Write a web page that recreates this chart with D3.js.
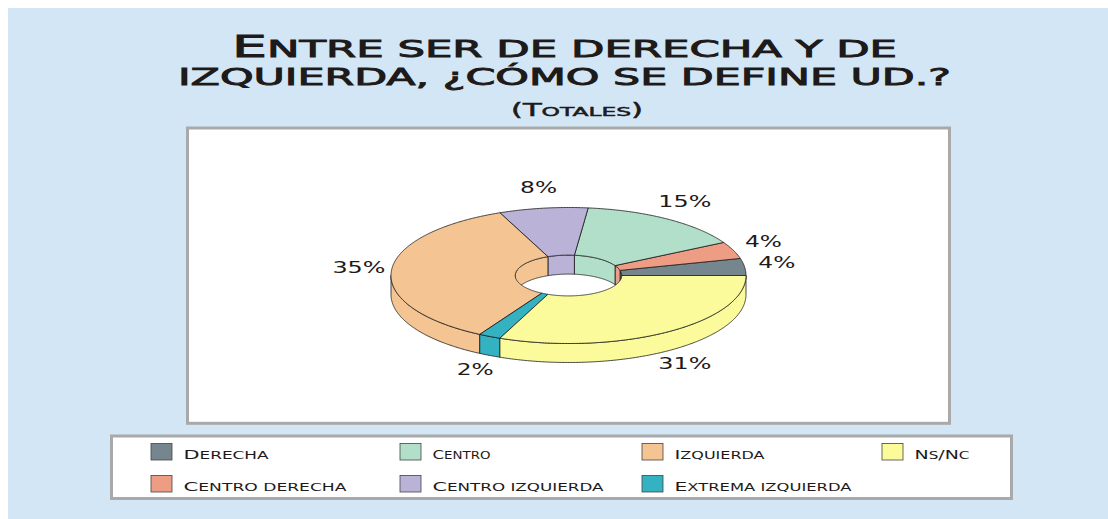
<!DOCTYPE html>
<html><head><meta charset="utf-8">
<script src="https://cdn.jsdelivr.net/npm/d3@7"></script>
<style>html,body{margin:0;padding:0;background:#fff;overflow:hidden}svg{display:block}</style>
</head><body>
<script>
// ---- data ----
const categories = ["Derecha","Centro derecha","Centro","Centro izquierda","Izquierda","Extrema izquierda","Ns/Nc"];
const values = [4,4,15,8,35,2,31];
const valueLabels = ["4%","4%","15%","8%","35%","2%","31%"];
const colors = ["#76868f","#ee9d85","#b2dfc9","#bab3d7","#f4c592","#35b2c1","#fbfb9c"];
const titleLines = ["Entre ser de derecha y de","izquierda, ¿cómo se define ud.?"];
const subtitle = "(Totales)";

const W=1108,H=519;
const FONT="'DejaVu Sans', sans-serif";
const svg=d3.select("body").append("svg").attr("width",W).attr("height",H);
svg.append("rect").attr("x",0).attr("y",0).attr("width",W).attr("height",H).attr("fill","#ffffff");
svg.append("rect").attr("x",8).attr("y",8).attr("width",W-8).attr("height",H-8).attr("fill","#d2e6f5");

// small caps helper
function smallCaps(textSel,str,big,small){
  const runs=[];
  for(const ch of str){
    const isLetter = ch.toLowerCase()!==ch.toUpperCase();
    const isBig = (isLetter && ch===ch.toUpperCase()) || /[()\/0-9]/.test(ch);
    const c = ch.toUpperCase();
    if(runs.length && runs[runs.length-1].big===isBig) runs[runs.length-1].t+=c;
    else runs.push({t:c,big:isBig});
  }
  runs.forEach(r=>textSel.append("tspan").attr("font-size",r.big?big:small).text(r.t));
  return textSel;
}
function stretchText(g,str,opts){
  const t=g.append("text").attr("x",opts.x).attr("y",opts.y)
    .attr("font-family",FONT).attr("font-weight",opts.weight||"normal")
    .attr("fill",opts.fill||"#1e1a1a").attr("text-anchor",opts.anchor||"start");
  if(opts.stroke) t.attr("stroke",opts.fill||"#1e1a1a").attr("stroke-width",opts.stroke);
  smallCaps(t,str,opts.big,opts.small);
  if(opts.width) t.attr("textLength",opts.width).attr("lengthAdjust","spacingAndGlyphs");
  return t;
}

// title
stretchText(svg,titleLines[0],{x:564.5,y:57,big:30,small:23.5,stroke:0.9,anchor:"middle",width:665});
stretchText(svg,titleLines[1],{x:564.5,y:85,big:30,small:23.5,stroke:0.9,anchor:"middle",width:773});
stretchText(svg,subtitle,{x:577,y:116,big:17,small:13,stroke:0.5,anchor:"middle",width:132});

// plot box
svg.append("rect").attr("x",187.5).attr("y",128).attr("width",762).attr("height",295.3)
  .attr("fill","#fff").attr("stroke","#a9a9a9").attr("stroke-width",3);

// ---- 3D doughnut ----
const cx=568.5, cy=275.5, rx=177.5, ry=68, depth=19, inner=0.3;
const arcs=d3.pie().sort(null).value(d=>d)(values);
function pt(th,a,b,dy){return [cx+a*Math.cos(th), cy-b*Math.sin(th)+dy];}
function arcPts(t0,t1,a,b,dy){
  const n=Math.max(2,Math.ceil(Math.abs(t1-t0)/(Math.PI/360)));
  return d3.range(n+1).map(i=>pt(t0+(t1-t0)*i/n,a,b,dy));
}
const line=d3.line();
const g=svg.append("g").attr("stroke","#1a1a1a").attr("stroke-width",0.8).attr("stroke-linejoin","round");
// inner (back) walls
arcs.forEach((d,i)=>{
  const s=Math.max(d.startAngle,0), e=Math.min(d.endAngle,Math.PI);
  if(e<=s) return;
  const pts=arcPts(s,e,rx*inner,ry*inner,0).concat(arcPts(e,s,rx*inner,ry*inner,depth));
  g.append("path").attr("d",line(pts)+"Z").attr("fill",colors[i]);
});
// outer (front) walls
arcs.forEach((d,i)=>{
  const s=Math.max(d.startAngle,Math.PI), e=Math.min(d.endAngle,2*Math.PI);
  if(e<=s) return;
  const pts=arcPts(s,e,rx,ry,0).concat(arcPts(e,s,rx,ry,depth));
  g.append("path").attr("d",line(pts)+"Z").attr("fill",colors[i]);
});
// top faces
arcs.forEach((d,i)=>{
  const pts=arcPts(d.startAngle,d.endAngle,rx,ry,0).concat(arcPts(d.endAngle,d.startAngle,rx*inner,ry*inner,0));
  g.append("path").attr("d",line(pts)+"Z").attr("fill",colors[i]);
});
// labels outside the rim
arcs.forEach((d,i)=>{
  const m=(d.startAngle+d.endAngle)/2;
  const txt=valueLabels[i];
  const w=16*txt.length+5;
  const p=pt(m,210,86,Math.sin(m)<0?depth:0);
  svg.append("text").attr("x",p[0]).attr("y",p[1]+3).attr("text-anchor","middle")
    .attr("font-family",FONT).attr("font-size",15).attr("fill","#1e1a1a")
    .attr("textLength",w).attr("lengthAdjust","spacingAndGlyphs").text(txt);
});

// ---- legend ----
svg.append("rect").attr("x",111.5).attr("y",436).attr("width",900).attr("height",62.5)
  .attr("fill","#fff").attr("stroke","#a9a9a9").attr("stroke-width",3);
const colX=[151,400,642,882], rowY=[443.5,475.5];
const legendWidths=[85,163,58,171,90,177,55];
categories.forEach((c,i)=>{
  const col=Math.floor(i/2), row=i%2;
  svg.append("rect").attr("x",colX[col]).attr("y",rowY[row]).attr("width",21).attr("height",16.5)
    .attr("fill",colors[i]).attr("stroke","#444").attr("stroke-width",0.8);
  stretchText(svg,c,{x:colX[col]+32.5,y:rowY[row]+15,big:13,small:10.5,width:legendWidths[i]});
});
</script>
</body></html>
